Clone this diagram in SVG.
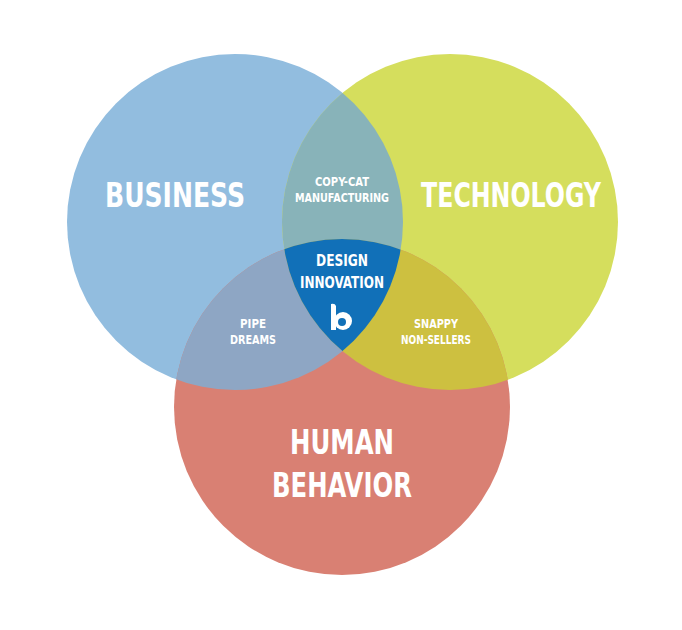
<svg xmlns="http://www.w3.org/2000/svg" width="682" height="630" viewBox="0 0 682 630">
<style>
text{font-family:"DejaVu Sans Condensed","DejaVu Sans","Liberation Sans",sans-serif;font-stretch:condensed;font-weight:bold;fill:#fff;text-anchor:middle}
.big{font-size:33px}.sm{font-size:13px}.md{font-size:16px}
</style>
<defs>
<clipPath id="cB"><circle cx="235" cy="222" r="168"/></clipPath>
<clipPath id="cT"><circle cx="450" cy="222" r="168"/></clipPath>
<clipPath id="cH"><circle cx="342" cy="407" r="168"/></clipPath>
</defs>
<rect width="682" height="630" fill="#fff"/>
<g id="business"><circle cx="235" cy="222" r="168" fill="#92bddf"/></g>
<g id="technology"><circle cx="450" cy="222" r="168" fill="#d5de5d"/></g>
<g id="human"><circle cx="342" cy="407" r="168" fill="#d98073"/></g>
<g id="copycat" clip-path="url(#cB)"><circle cx="450" cy="222" r="168" fill="#88b3b9"/></g>
<g id="pipe" clip-path="url(#cB)"><circle cx="342" cy="407" r="168" fill="#8ea6c4"/></g>
<g id="snappy" clip-path="url(#cT)"><circle cx="342" cy="407" r="168" fill="#cdc040"/></g>
<g id="design" clip-path="url(#cB)"><g clip-path="url(#cT)"><circle cx="342" cy="407" r="168" fill="#1170b8"/></g></g>
<g id="labels">
<text class="big" x="175" y="207" textLength="140" lengthAdjust="spacingAndGlyphs">BUSINESS</text>
<text class="big" x="511" y="207" textLength="180" lengthAdjust="spacingAndGlyphs">TECHNOLOGY</text>
<text class="big" x="342" y="454" textLength="104" lengthAdjust="spacingAndGlyphs">HUMAN</text>
<text class="big" x="342" y="497" textLength="140" lengthAdjust="spacingAndGlyphs">BEHAVIOR</text>
<text class="sm" x="342" y="186" textLength="54" lengthAdjust="spacingAndGlyphs">COPY-CAT</text>
<text class="sm" x="342" y="202" textLength="94" lengthAdjust="spacingAndGlyphs">MANUFACTURING</text>
<text class="md" x="342" y="266" textLength="52" lengthAdjust="spacingAndGlyphs">DESIGN</text>
<text class="md" x="342" y="288" textLength="84" lengthAdjust="spacingAndGlyphs">INNOVATION</text>
<text class="sm" x="253" y="328" textLength="26" lengthAdjust="spacingAndGlyphs">PIPE</text>
<text class="sm" x="253" y="344" textLength="46" lengthAdjust="spacingAndGlyphs">DREAMS</text>
<text class="sm" x="436" y="328" textLength="44" lengthAdjust="spacingAndGlyphs">SNAPPY</text>
<text class="sm" x="436" y="344" textLength="70" lengthAdjust="spacingAndGlyphs">NON-SELLERS</text>
</g>
<g id="logo" fill="#fff">
<path d="M331,304 q4,-1 5,2 v24 h-5 z"/>
<circle cx="343" cy="321" r="9"/>
<circle cx="342" cy="322" r="4" fill="#1170b8"/>
</g>
</svg>
